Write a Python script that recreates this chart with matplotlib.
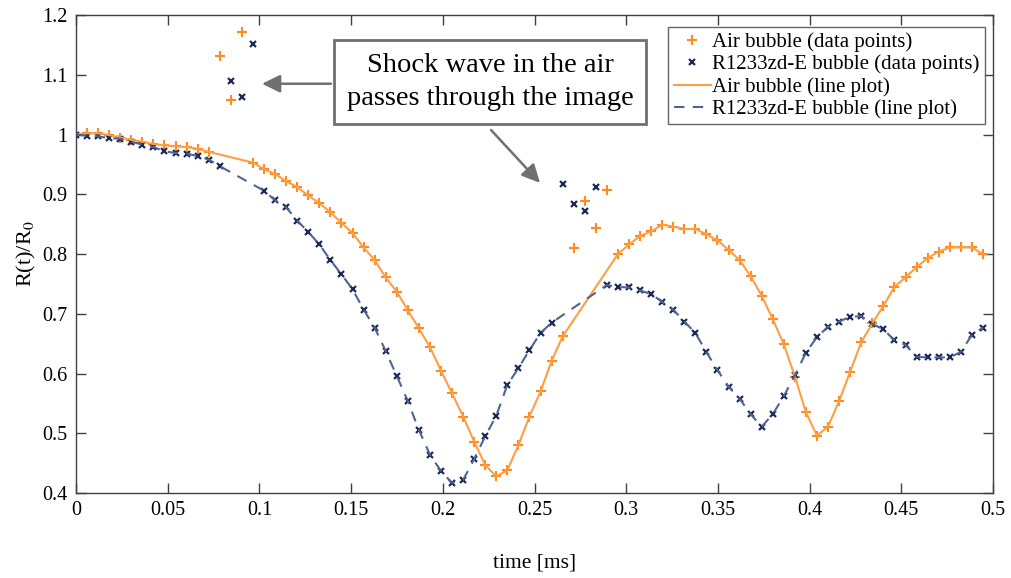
import numpy as np
import matplotlib
matplotlib.use("Agg")
import matplotlib.pyplot as plt

plt.rcParams['font.family'] = ['Liberation Serif', 'DejaVu Serif']
plt.rcParams['mathtext.fontset'] = 'stix'

# frame times [ms]
t = [0.0, 0.006, 0.0121, 0.0181, 0.0241, 0.0302, 0.0362, 0.0422, 0.0482, 0.0543,
     0.0603, 0.0663, 0.0724, 0.0784, 0.0844, 0.0905, 0.0965, 0.1025, 0.1085, 0.1146,
     0.1206, 0.1266, 0.1327, 0.1387, 0.1447, 0.1508, 0.1568, 0.1628, 0.1688, 0.1749,
     0.1809, 0.1869, 0.193, 0.199, 0.205, 0.2111, 0.2171, 0.2231, 0.2291, 0.2352,
     0.2412, 0.2472, 0.2533, 0.2593, 0.2653, 0.2714, 0.2774, 0.2834, 0.2894, 0.2955,
     0.3015, 0.3075, 0.3136, 0.3196, 0.3256, 0.3317, 0.3377, 0.3437, 0.3497, 0.3558,
     0.3618, 0.3678, 0.3739, 0.3799, 0.3859, 0.392, 0.398, 0.404, 0.41, 0.4161,
     0.4221, 0.4281, 0.4342, 0.4402, 0.4462, 0.4523, 0.4583, 0.4643, 0.4703, 0.4764,
     0.4824, 0.4884, 0.4945]

r_air = [1.000, 1.002, 1.002, 0.999, 0.995, 0.991, 0.988, 0.984, 0.982, 0.980,
         0.979, 0.976, 0.971, 1.131, 1.058, 1.172, 0.953, 0.942, 0.934, 0.922,
         0.912, 0.898, 0.885, 0.870, 0.852, 0.835, 0.811, 0.790, 0.761, 0.737,
         0.706, 0.676, 0.644, 0.605, 0.567, 0.528, 0.486, 0.447, 0.428, 0.438,
         0.480, 0.528, 0.570, 0.621, 0.662, 0.810, 0.889, 0.843, 0.908, 0.800,
         0.816, 0.830, 0.838, 0.849, 0.846, 0.842, 0.842, 0.833, 0.823, 0.807,
         0.790, 0.763, 0.730, 0.691, 0.649, 0.595, 0.535, 0.496, 0.511, 0.554,
         0.603, 0.652, 0.684, 0.713, 0.745, 0.761, 0.778, 0.793, 0.804, 0.811,
         0.811, 0.811, 0.800]

r_r1233 = [1.000, 0.998, 0.997, 0.994, 0.993, 0.988, 0.983, 0.979, 0.972, 0.969,
           0.968, 0.964, 0.958, 0.947, 1.090, 1.063, 1.151, 0.906, 0.890, 0.878,
           0.856, 0.837, 0.816, 0.790, 0.766, 0.741, 0.707, 0.677, 0.638, 0.596,
           0.554, 0.506, 0.464, 0.437, 0.417, 0.422, 0.457, 0.495, 0.529, 0.581,
           0.609, 0.639, 0.668, 0.685, 0.917, 0.884, 0.872, 0.912, 0.748, 0.745,
           0.744, 0.739, 0.733, 0.720, 0.707, 0.687, 0.668, 0.636, 0.606, 0.578,
           0.558, 0.532, 0.511, 0.532, 0.562, 0.597, 0.635, 0.661, 0.678, 0.687,
           0.695, 0.696, 0.683, 0.674, 0.656, 0.648, 0.628, 0.627, 0.627, 0.627,
           0.636, 0.664, 0.677]

# frames disturbed by the shock wave (left out of the line plots)
shock_air = [13, 14, 15, 45, 46, 47, 48]
shock_r1233 = [14, 15, 16, 44, 45, 46, 47]

t = np.array(t)
r_air = np.array(r_air)
r_r1233 = np.array(r_r1233)
ok_air = np.ones(len(t), bool); ok_air[shock_air] = False
ok_r = np.ones(len(t), bool); ok_r[shock_r1233] = False

c_air = '#FF8A1E'
c_air_line = '#FF9E45'
c_r = '#1C2B58'
c_r_line = '#4F6491'

fig = plt.figure(figsize=(10.11, 5.78), dpi=100)
ax = fig.add_axes([0.0752, 0.147, 0.907, 0.827])

ax.plot(t, r_air, '+', color=c_air, ms=7, mew=1.5, label='Air bubble (data points)')
ax.plot(t, r_r1233, 'x', color=c_r, ms=5, mew=1.6, label='R1233zd-E bubble (data points)')
ax.plot(t[ok_air], r_air[ok_air], '-', color=c_air_line, lw=1.5, label='Air bubble (line plot)')
ax.plot(t[ok_r], r_r1233[ok_r], '--', color=c_r_line, lw=1.5, dashes=(5, 4),
        label='R1233zd-E bubble (line plot)')

ax.set_xlim(0, 0.5)
ax.set_ylim(0.4, 1.2)
ax.set_xticks(np.arange(0, 0.51, 0.05))
ax.set_xticklabels(['0', '0.05', '0.1', '0.15', '0.2', '0.25', '0.3', '0.35', '0.4', '0.45', '0.5'])
ax.set_yticks(np.arange(0.4, 1.21, 0.1))
ax.set_yticklabels(['0.4', '0.5', '0.6', '0.7', '0.8', '0.9', '1', '1.1', '1.2'])
ax.tick_params(direction='in', top=True, right=True, length=7, width=1,
               color='#404040', labelsize=14.5, pad=6)
for s in ax.spines.values():
    s.set_color('#404040')
    s.set_linewidth(1)

ax.set_xlabel('time [ms]', fontsize=15.5, labelpad=24)
ax.set_ylabel('R(t)/R$_0$', fontsize=16, labelpad=3)

leg = ax.legend(loc='upper right', bbox_to_anchor=(0.991, 0.975), fontsize=15,
                frameon=True, fancybox=False, handlelength=1.8, handletextpad=0.05,
                borderpad=0.25, labelspacing=0.13, borderaxespad=0)
leg.get_frame().set_edgecolor('#404040')
leg.get_frame().set_linewidth(1)

ax.text(0.2257, 1.088, 'Shock wave in the air\npasses through the image',
        ha='center', va='center', fontsize=20.5, linespacing=1.4,
        bbox=dict(boxstyle='square,pad=0.45', fc='white', ec='#707070', lw=2),
        zorder=5)
arrow = dict(arrowstyle='-|>,head_length=0.55,head_width=0.27', color='#707070', lw=1.8,
             shrinkA=0, shrinkB=0, mutation_scale=20)
ax.annotate('', xy=(0.1014, 1.085), xytext=(0.139, 1.085), arrowprops=arrow)
ax.annotate('', xy=(0.253, 0.919), xytext=(0.2263, 1.0075), arrowprops=arrow)

fig.savefig('out.png', dpi=100)
